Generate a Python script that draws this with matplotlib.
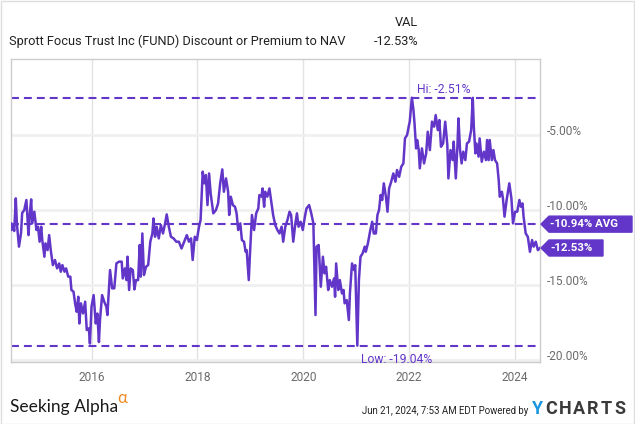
import matplotlib
matplotlib.use("Agg")
import matplotlib.pyplot as plt
from matplotlib import font_manager
from matplotlib.patches import Polygon, Rectangle


def pick(names):
    # first family that is really installed
    for n in names:
        try:
            font_manager.findfont(font_manager.FontProperties(family=n), fallback_to_default=False)
            return n
        except Exception:
            pass
    return "DejaVu Sans"


narrow = pick(["Liberation Sans Narrow", "Roboto", "DejaVu Sans"])
plt.rcParams["font.family"] = [narrow, "DejaVu Sans"]

title = "Sprott Focus Trust Inc (FUND) Discount or Premium to NAV"
stamp = "Jun 21, 2024, 7:53 AM EDT Powered by"

# decimal years and discount/premium (%)
years = [
    2014.48, 2014.49, 2014.52, 2014.54, 2014.57, 2014.59, 2014.63, 2014.67, 2014.69, 2014.73,
    2014.77, 2014.81, 2014.83, 2014.86, 2014.88, 2014.92, 2014.96, 2014.99, 2015.02, 2015.05,
    2015.07, 2015.11, 2015.13, 2015.17, 2015.20, 2015.23, 2015.27, 2015.31, 2015.35, 2015.39,
    2015.42, 2015.45, 2015.49, 2015.52, 2015.56, 2015.60, 2015.62, 2015.66, 2015.69, 2015.72,
    2015.75, 2015.77, 2015.80, 2015.84, 2015.88, 2015.91, 2015.95, 2015.97, 2016.00, 2016.04,
    2016.08, 2016.11, 2016.14, 2016.16, 2016.20, 2016.24, 2016.28, 2016.30, 2016.35, 2016.39,
    2016.43, 2016.47, 2016.52, 2016.57, 2016.59, 2016.63, 2016.66, 2016.68, 2016.71, 2016.74,
    2016.78, 2016.81, 2016.84, 2016.88, 2016.91, 2016.93, 2016.96, 2016.99, 2017.03, 2017.07,
    2017.11, 2017.15, 2017.17, 2017.20, 2017.23, 2017.27, 2017.31, 2017.35, 2017.39, 2017.42,
    2017.46, 2017.50, 2017.55, 2017.60, 2017.65, 2017.70, 2017.75, 2017.80, 2017.84, 2017.88,
    2017.91, 2017.95, 2017.99, 2018.03, 2018.06, 2018.10, 2018.13, 2018.16, 2018.19, 2018.22,
    2018.25, 2018.30, 2018.35, 2018.39, 2018.43, 2018.47, 2018.50, 2018.54, 2018.58, 2018.60,
    2018.63, 2018.67, 2018.71, 2018.74, 2018.77, 2018.81, 2018.84, 2018.88, 2018.91, 2018.93,
    2018.97, 2018.99, 2019.03, 2019.07, 2019.11, 2019.15, 2019.17, 2019.21, 2019.23, 2019.26,
    2019.28, 2019.32, 2019.36, 2019.40, 2019.43, 2019.47, 2019.51, 2019.55, 2019.59, 2019.62,
    2019.66, 2019.70, 2019.74, 2019.77, 2019.81, 2019.85, 2019.88, 2019.91, 2019.95, 2019.99,
    2020.03, 2020.06, 2020.11, 2020.15, 2020.19, 2020.23, 2020.25, 2020.29, 2020.33, 2020.37,
    2020.40, 2020.43, 2020.47, 2020.50, 2020.54, 2020.58, 2020.60, 2020.62, 2020.66, 2020.69,
    2020.73, 2020.76, 2020.78, 2020.82, 2020.86, 2020.88, 2020.92, 2020.96, 2020.98, 2021.02,
    2021.05, 2021.08, 2021.12, 2021.16, 2021.18, 2021.22, 2021.26, 2021.30, 2021.33, 2021.37,
    2021.40, 2021.43, 2021.46, 2021.49, 2021.52, 2021.56, 2021.59, 2021.62, 2021.66, 2021.70,
    2021.74, 2021.77, 2021.81, 2021.85, 2021.89, 2021.92, 2021.96, 2021.99, 2022.01, 2022.05,
    2022.08, 2022.10, 2022.13, 2022.15, 2022.18, 2022.20, 2022.24, 2022.28, 2022.32, 2022.35,
    2022.39, 2022.43, 2022.47, 2022.50, 2022.54, 2022.57, 2022.60, 2022.64, 2022.68, 2022.72,
    2022.74, 2022.78, 2022.82, 2022.84, 2022.88, 2022.91, 2022.93, 2022.96, 2022.99, 2023.02,
    2023.06, 2023.09, 2023.13, 2023.17, 2023.20, 2023.22, 2023.25, 2023.27, 2023.31, 2023.33,
    2023.37, 2023.41, 2023.45, 2023.47, 2023.50, 2023.52, 2023.56, 2023.59, 2023.62, 2023.66,
    2023.69, 2023.71, 2023.75, 2023.77, 2023.80, 2023.84, 2023.89, 2023.93, 2023.96, 2024.00,
    2024.04, 2024.08, 2024.11, 2024.14, 2024.16, 2024.20, 2024.24, 2024.28, 2024.32, 2024.35,
    2024.39, 2024.43, 2024.47,
]
vals = [
    -10.90, -11.33, -11.00, -11.40, -9.22, -10.87, -12.44, -11.50, -10.20, -10.00,
    -9.33, -11.67, -10.44, -9.29, -10.89, -10.11, -11.33, -11.11, -12.11, -11.11,
    -12.00, -13.11, -12.22, -12.67, -11.67, -12.67, -13.67, -13.33, -13.89, -13.56,
    -14.11, -13.67, -14.11, -13.89, -14.44, -14.44, -15.33, -15.44, -16.22, -16.78,
    -15.78, -17.56, -16.22, -16.89, -16.11, -18.00, -17.89, -18.90, -16.44, -15.67,
    -17.56, -16.90, -18.80, -17.33, -15.67, -16.11, -16.44, -17.00, -14.00, -15.22,
    -15.22, -13.56, -13.44, -13.44, -14.56, -13.89, -14.67, -13.11, -15.33, -13.89,
    -14.00, -15.29, -14.67, -14.67, -12.33, -14.44, -11.56, -14.33, -13.78, -13.67,
    -12.11, -11.56, -10.56, -11.78, -11.11, -11.89, -11.00, -11.56, -10.89, -10.29,
    -11.11, -11.78, -11.89, -12.11, -12.11, -12.56, -12.11, -11.67, -12.11, -11.89,
    -13.33, -11.78, -12.00, -11.11, -10.67, -7.44, -8.22, -7.67, -9.67, -7.56,
    -8.89, -10.22, -10.00, -9.56, -8.22, -7.29, -8.78, -7.89, -8.78, -10.33,
    -9.11, -9.67, -9.78, -10.22, -11.33, -10.89, -12.00, -12.11, -12.78, -12.67,
    -14.67, -13.11, -10.33, -11.33, -10.22, -9.89, -9.00, -9.11, -8.56, -9.78,
    -8.78, -9.11, -8.56, -9.56, -10.33, -11.00, -11.33, -11.56, -11.11, -12.11,
    -11.11, -10.67, -10.11, -10.33, -12.11, -10.89, -10.22, -11.11, -10.78, -11.33,
    -10.44, -9.89, -9.67, -10.22, -10.89, -17.00, -12.44, -12.33, -15.11, -13.11,
    -14.22, -13.78, -15.33, -14.67, -15.11, -14.56, -15.78, -13.56, -15.33, -14.67,
    -15.56, -15.33, -16.22, -16.00, -17.33, -15.56, -13.56, -14.00, -13.67, -19.04,
    -14.67, -13.11, -12.89, -12.44, -12.78, -12.22, -11.44, -10.78, -11.56, -11.56,
    -10.33, -10.00, -9.00, -9.33, -8.22, -9.11, -10.11, -8.56, -8.11, -7.56,
    -8.11, -7.33, -7.78, -7.11, -6.89, -5.22, -5.00, -4.44, -4.11, -2.51,
    -3.33, -4.22, -5.89, -5.33, -6.00, -7.22, -5.89, -6.89, -6.22, -4.78,
    -6.00, -4.11, -4.44, -3.67, -4.67, -4.00, -5.78, -5.56, -4.11, -5.67,
    -7.89, -6.00, -6.67, -5.44, -7.89, -5.78, -3.89, -6.00, -6.89, -6.11,
    -6.67, -5.56, -5.44, -4.67, -2.52, -4.44, -6.22, -5.56, -6.44, -5.22,
    -6.78, -6.11, -6.67, -5.33, -6.67, -5.33, -6.67, -6.00, -6.67, -6.89,
    -8.00, -9.11, -8.78, -9.22, -10.44, -9.33, -8.22, -9.22, -10.89, -10.11,
    -10.11, -9.33, -9.78, -9.56, -10.44, -11.56, -11.78, -12.78, -12.00, -12.44,
    -12.11, -12.67, -12.53,
]
avg = -10.94
year_ticks = [2016, 2018, 2020, 2022, 2024]
pct_ticks = [-5, -10, -15, -20]

purple = "#6236c8"
W, H = 635, 424

fig = plt.figure(figsize=(W / 100, H / 100), dpi=100)
fig.patch.set_facecolor("white")
ax = fig.add_axes([10.5 / W, 1 - 362.3 / H, 529.5 / W, (362.3 - 58.7) / H])

ax.plot(years, vals, color=purple, lw=1.8, solid_joinstyle="round", zorder=3)

hi = max(vals)
lo = min(vals)
last = vals[-1]
hi_x = years[vals.index(hi)]
lo_x = years[vals.index(lo)]
for v in (hi, avg, lo):
    ax.axhline(v, color=purple, lw=1.5, ls=(0, (3.8, 2.4)), zorder=2)

ax.set_xlim(2014.47, 2024.47)
ax.set_ylim(-20.15, 0.09)
ax.set_xticks(year_ticks)
ax.set_xticklabels([str(y) for y in year_ticks])
ax.set_yticks(pct_ticks)
ax.set_yticklabels(["%.2f%%" % t for t in pct_ticks])
ax.yaxis.tick_right()
ax.tick_params(axis="both", length=0, colors="#6b6b6b", labelsize=8.6)
ax.tick_params(axis="x", pad=6.5)
ax.tick_params(axis="y", pad=5)
for lab in ax.get_yticklabels():
    lab.set_verticalalignment("baseline")

ax.grid(axis="x", color="#e2e2e2", lw=1)
ax.grid(axis="y", color="#efefef", lw=1.8)
ax.set_axisbelow(True)
for s in ax.spines.values():
    s.set_color("#cccccc")
    s.set_linewidth(1)

ax.annotate("Hi: %.2f%%" % hi, xy=(hi_x, hi), xytext=(3.4, 6), textcoords="offset points",
            va="center", ha="left", color=purple, fontsize=8.7)
ax.annotate("Low: %.2f%%" % lo, xy=(lo_x, lo), xytext=(3, -10), textcoords="offset points",
            va="center", ha="left", color=purple, fontsize=8.7, annotation_clip=False)

# value tags on the right edge
tr = ax.get_yaxis_transform()
px = 1 / 529.5
hh = 8 / 15.0
for v, txt, right in ((avg, "%.2f%% AVG" % avg, 92), (last, "%.2f%%" % last, 63)):
    x0 = 1 + 1 * px
    x1 = 1 + right * px
    poly = Polygon([(x0, v), (x0 + 8 * px, v + hh), (x1, v + hh), (x1, v - hh), (x0 + 8 * px, v - hh)],
                   closed=True, transform=tr, fc=purple, ec=purple, clip_on=False, zorder=5)
    ax.add_patch(poly)
    ax.text(1 + 10.5 * px, v, txt, transform=tr, color="white",
            fontsize=8.2, fontweight="bold", va="center", ha="left", clip_on=False, zorder=6)

# header
fig.text(9 / W, 1 - 41.7 / H, title, fontsize=9.2, color="#222222", va="center", ha="left")
fig.text(418 / W, 1 - 23 / H, "VAL", fontsize=9.2, color="#222222", va="center", ha="right")
fig.text(418 / W, 1 - 41.7 / H, "%.2f%%" % last, fontsize=9.2, color="#222222", va="center", ha="right")

# footer
fig.text(10 / W, 1 - 407 / H, "Seeking Alpha", fontsize=12.5, color="#1a1a1a", va="center", ha="left",
         family=["Lato", "DejaVu Sans"])
fig.text(117 / W, 1 - 398 / H, "\u03b1", fontsize=12, color="#f08a24", va="center", ha="left",
         family=["Lato", "DejaVu Sans"])
fig.text(528 / W, 1 - 411 / H, stamp, fontsize=6.9, color="#222222", va="center", ha="right")
for i, ch in enumerate("YCHARTS"):
    fig.text((538 + 13.6 * i) / W, 1 - 409 / H, ch, fontsize=13, va="center", ha="center",
             color="#1a96e0" if ch == "Y" and i == 0 else "#3a3a3a",
             fontweight="bold", family=["Roboto", "DejaVu Sans"])

fig.patches.append(Rectangle((0.5 / W, 0.5 / H), 1 - 1.5 / W, 1 - 1.5 / H, transform=fig.transFigure,
                             fill=False, ec="#dddddd", lw=1))

fig.savefig("out.png", dpi=100)
